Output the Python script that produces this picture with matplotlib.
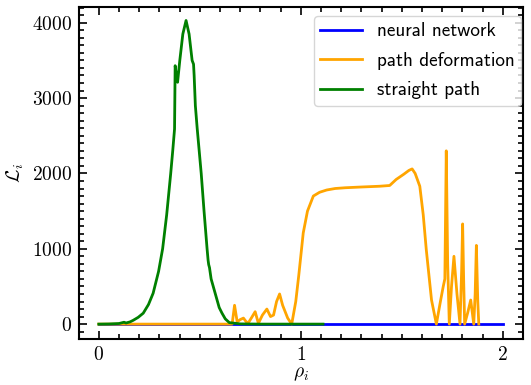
import numpy as np
import matplotlib
matplotlib.use('Agg')
import matplotlib.pyplot as plt
from matplotlib.ticker import MultipleLocator

plt.rcParams['font.family'] = 'serif'
plt.rcParams['font.serif'] = ['cmr10']
plt.rcParams['mathtext.fontset'] = 'cm'
plt.rcParams['axes.formatter.use_mathtext'] = True
plt.rcParams['axes.unicode_minus'] = False

# neural network: zero over whole range
nn_x = [0, 0.5, 1.0, 1.5, 2.0]
nn_y = [0, 0, 0, 0, 0]

# path deformation
pd_x = [0, 0.645, 0.66, 0.672, 0.685, 0.7, 0.716, 0.73, 0.741, 0.755, 0.774, 0.79,
        0.81, 0.832, 0.85, 0.865, 0.88, 0.895, 0.91, 0.935, 0.955, 0.975, 0.99,
        1.012, 1.033, 1.062, 1.093, 1.128, 1.17, 1.22, 1.3, 1.39, 1.44, 1.472, 1.51,
        1.535, 1.551, 1.566, 1.589, 1.606, 1.621, 1.647, 1.671, 1.691, 1.705, 1.713,
        1.72, 1.727, 1.735, 1.746, 1.758, 1.773, 1.788, 1.796, 1.801, 1.806, 1.811,
        1.826, 1.841, 1.856, 1.863, 1.869, 1.876, 1.881]
pd_y = [0, 0, 0, 250, 30, 60, 80, 30, 20, 80, 165, 10,
        120, 200, 100, 120, 300, 400, 250, 80, 0, 300, 650,
        1210, 1500, 1700, 1750, 1780, 1800, 1810, 1820, 1830, 1840, 1920, 1990,
        2040, 2060, 2000, 1830, 1450, 990, 320, 0, 300, 500, 600,
        2300, 800, 0, 500, 900, 400, 0, 700, 1330, 600, 0,
        150, 320, 0, 400, 1045, 300, 0]

# straight path
sp_x = [0, 0.05, 0.1, 0.125, 0.135, 0.155, 0.17, 0.195, 0.22, 0.246, 0.269, 0.296, 0.316,
        0.336, 0.356, 0.366, 0.375, 0.378, 0.384, 0.39, 0.401, 0.416, 0.432, 0.447,
        0.462, 0.469, 0.472, 0.478, 0.487, 0.497, 0.507, 0.521, 0.536, 0.541, 0.544,
        0.548, 0.556, 0.576, 0.596, 0.61, 0.626, 0.646, 0.7, 0.8, 0.9, 1.0, 1.11]
sp_y = [0, 2, 8, 25, 15, 30, 50, 90, 145, 260, 410, 700, 1000,
        1450, 2000, 2300, 2590, 3430, 3300, 3210, 3500, 3850, 4030, 3850,
        3500, 3450, 3300, 2900, 2600, 2300, 2000, 1500, 1000, 850, 790,
        750, 600, 410, 220, 145, 70, 20, 3, 0, 0, 0, 0]

fig = plt.figure(figsize=(5.31, 3.85), dpi=100)
ax = fig.add_axes([0.148, 0.119, 0.837, 0.863])
ax.plot(nn_x, nn_y, color='blue', lw=2, label='neural network')
ax.plot(pd_x, pd_y, color='orange', lw=2, label='path deformation')
ax.plot(sp_x, sp_y, color='green', lw=2, label='straight path')

ax.set_xlim(-0.1, 2.1)
ax.set_ylim(-200, 4210)
ax.xaxis.set_major_locator(MultipleLocator(1))
ax.xaxis.set_minor_locator(MultipleLocator(0.1))
ax.yaxis.set_major_locator(MultipleLocator(1000))
ax.yaxis.set_minor_locator(MultipleLocator(100))
ax.tick_params(which='both', direction='in', top=True, right=True, labelsize=14, width=1.2)
ax.tick_params(which='major', length=6, pad=5)
ax.tick_params(which='minor', length=3.5)
for s in ax.spines.values():
    s.set_linewidth(1.5)

ax.set_xlabel(r'$\rho_i$', fontsize=14, labelpad=1)
ax.set_ylabel(r'$\mathcal{L}_i$', fontsize=14)
ax.legend(loc='upper right', bbox_to_anchor=(0.9955, 0.9726), borderaxespad=0,
          prop={'family': 'cmss10', 'size': 13.8}, handlelength=2.2,
          handletextpad=0.77, labelspacing=0.6, borderpad=0.33,
          fancybox=True, edgecolor='0.8')

fig.savefig('out.png', dpi=100)
